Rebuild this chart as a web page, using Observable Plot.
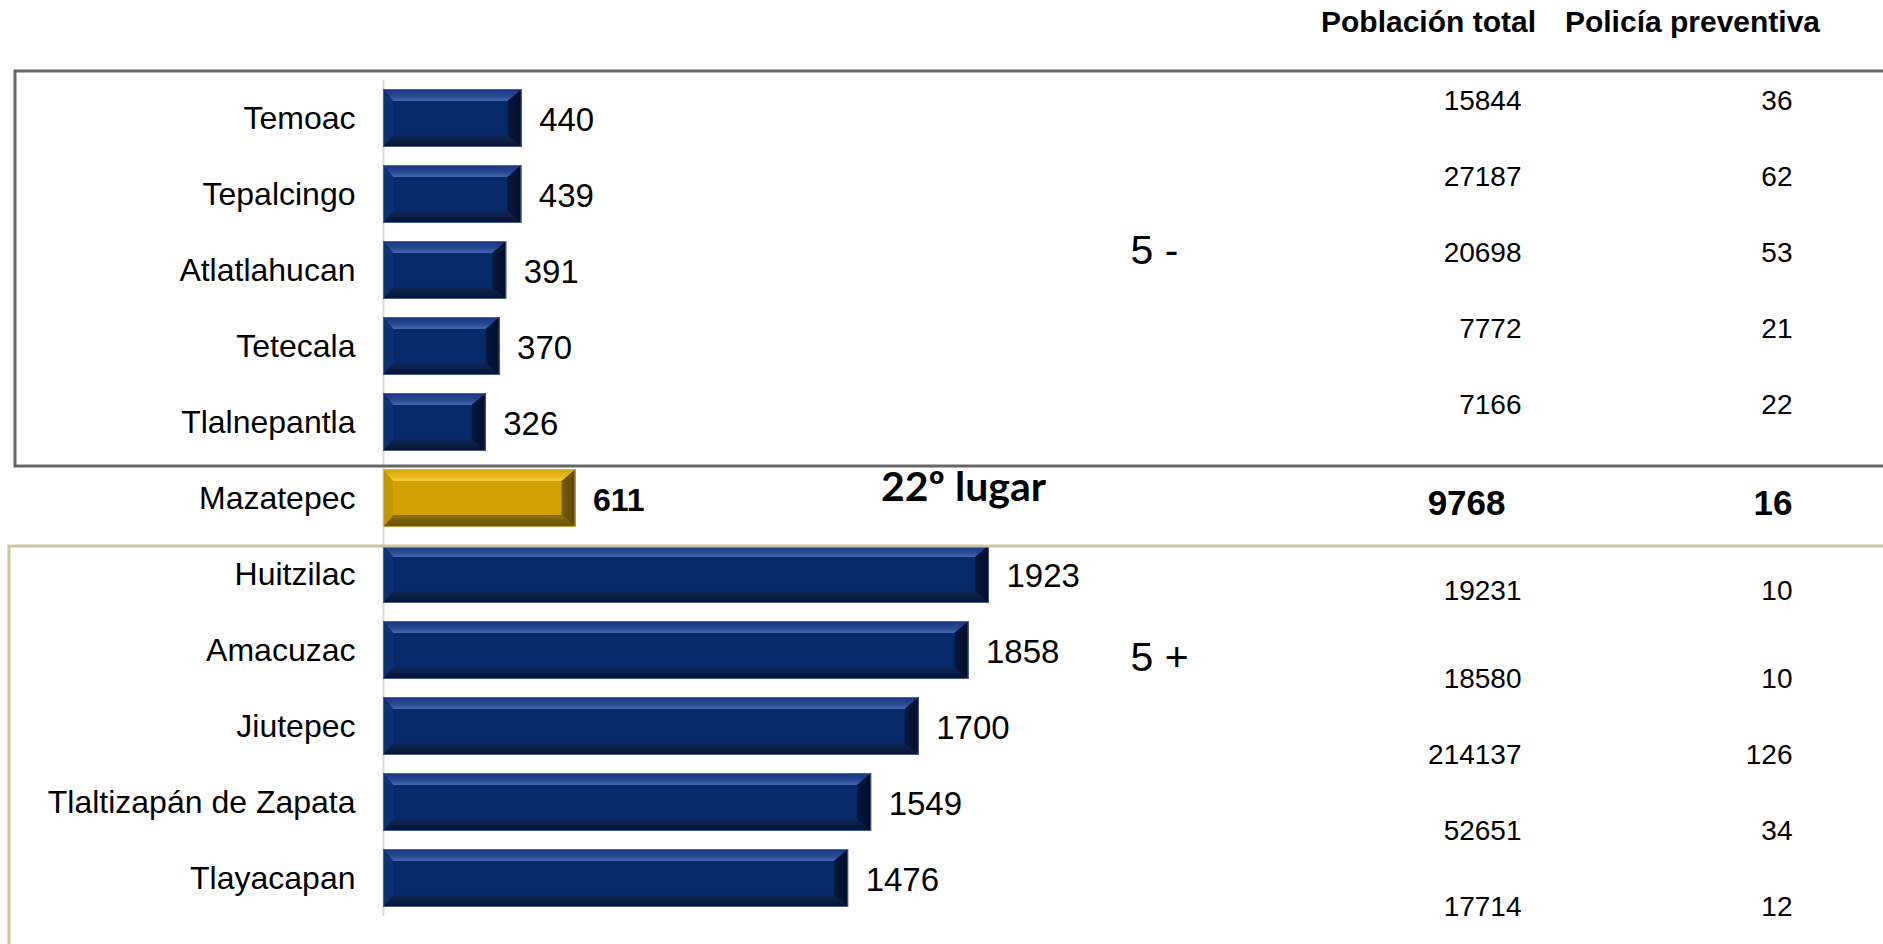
<!DOCTYPE html>
<html>
<head>
<meta charset="utf-8">
<script src="https://cdn.jsdelivr.net/npm/d3@7"></script>
<script src="https://cdn.jsdelivr.net/npm/@observablehq/plot@0.6"></script>
<style>
  html, body { margin: 0; padding: 0; background: #fff; }
  svg { display: block; }
</style>
</head>
<body>
<div id="chart"></div>
<script>
// ---- Data ----
const municipios = ["Temoac", "Tepalcingo", "Atlatlahucan", "Tetecala", "Tlalnepantla", "Mazatepec",
                    "Huitzilac", "Amacuzac", "Jiutepec", "Tlaltizapán de Zapata", "Tlayacapan"];
const valores   = [440, 439, 391, 370, 326, 611, 1923, 1858, 1700, 1549, 1476];
const poblacion = [15844, 27187, 20698, 7772, 7166, 9768, 19231, 18580, 214137, 52651, 17714];
const policia   = [36, 62, 53, 21, 22, 16, 10, 10, 126, 34, 12];
const grupos    = ["menos", "menos", "menos", "menos", "menos", "lugar", "mas", "mas", "mas", "mas", "mas"];
const encabezados = ["Población total", "Policía preventiva"];
const etiquetasGrupo = ["5 -", "5 +"];
const etiquetaLugar = "22º lugar";

const data = municipios.map((m, i) => ({
  municipio: m, valor: valores[i], poblacion: poblacion[i], policia: policia[i], grupo: grupos[i]
}));
const normal = data.filter(d => d.grupo !== "lugar");
const maz = data.filter(d => d.grupo === "lugar");
const menos = data.filter(d => d.grupo === "menos");
const mas = data.filter(d => d.grupo === "mas");
const masPrimero = mas.slice(0, 1);
const masResto = mas.slice(1);

const font = "'Liberation Sans', Arial, Helvetica, sans-serif";

const tabla = (rows, dy, opts = {}, dxPob = -362) => [
  Plot.text(rows, {y: "municipio", text: d => String(d.poblacion), frameAnchor: "right", dx: dxPob, dy,
    textAnchor: "end", lineAnchor: "middle", fontSize: 28, fill: "#000", ...opts}),
  Plot.text(rows, {y: "municipio", text: d => String(d.policia), frameAnchor: "right", dx: -91, dy,
    textAnchor: "end", lineAnchor: "middle", fontSize: 28, fill: "#000", ...opts})
];

const plot = Plot.plot({
  width: 1883,
  height: 944,
  marginTop: 80,
  marginBottom: 28,
  marginLeft: 383,
  marginRight: 0,
  x: {domain: [0, 4760], axis: null},
  y: {domain: municipios, axis: null, paddingInner: 0.237, paddingOuter: 0.118},
  style: {fontFamily: font, color: "#000", background: "#fff"},
  marks: [
    Plot.ruleX([0], {stroke: "#d9d9d9", strokeWidth: 2}),
    Plot.barX(normal, {x: "valor", y: "municipio", fill: "#072a6b"}),
    Plot.barX(maz, {x: "valor", y: "municipio", fill: "#d2a000"}),
    // category labels
    Plot.text(data, {y: "municipio", text: "municipio", frameAnchor: "left", dx: -28,
      textAnchor: "end", lineAnchor: "middle", fontSize: 32, fill: "#000"}),
    // value labels
    Plot.text(normal, {x: "valor", y: "municipio", text: d => String(d.valor), dx: 17, dy: 2,
      textAnchor: "start", lineAnchor: "middle", fontSize: 33, fill: "#000"}),
    Plot.text(maz, {x: "valor", y: "municipio", text: d => String(d.valor), dx: 17, dy: 2,
      textAnchor: "start", lineAnchor: "middle", fontSize: 32, fontWeight: "bold", fill: "#000"}),
    // rank label
    Plot.text(maz, {y: "municipio", text: () => etiquetaLugar, frameAnchor: "left", dx: 580, dy: -11,
      textAnchor: "middle", lineAnchor: "middle", fontSize: 41, fontWeight: "bold",
      fontFamily: "Lato, 'Open Sans', sans-serif", fill: "#000"}),
    // group labels
    Plot.text(menos.slice(2, 3), {y: "municipio", text: () => etiquetasGrupo[0], frameAnchor: "left",
      dx: 747, dy: -20, textAnchor: "start", lineAnchor: "middle", fontSize: 41, fill: "#000"}),
    Plot.text(mas.slice(1, 2), {y: "municipio", text: () => etiquetasGrupo[1], frameAnchor: "left",
      dx: 747, dy: 7, textAnchor: "start", lineAnchor: "middle", fontSize: 41, fill: "#000"}),
    // headers
    Plot.text([encabezados[0]], {text: d => d, frameAnchor: "top-right", dx: -455, dy: -58,
      textAnchor: "middle", lineAnchor: "middle", fontSize: 30, fontWeight: "bold", fill: "#000"}),
    Plot.text([encabezados[1]], {text: d => d, frameAnchor: "top-right", dx: -191, dy: -58,
      textAnchor: "middle", lineAnchor: "middle", fontSize: 30, fontWeight: "bold", fill: "#000"}),
    // table
    ...tabla(menos, -17),
    ...tabla(maz, 5, {fontWeight: "bold", fontSize: 35}, -378),
    ...tabla(masPrimero, 17),
    ...tabla(masResto, 29)
  ]
});

document.getElementById("chart").appendChild(plot);

// ---- Bevel decoration on bars drawn by Plot ----
const svg = d3.select(plot);
const defs = svg.insert("defs", ":first-child");
function grad(id, stops) {
  const g = defs.append("linearGradient").attr("id", id).attr("x1", 0).attr("y1", 0).attr("x2", 0).attr("y2", 1);
  stops.forEach(([o, c]) => g.append("stop").attr("offset", o).attr("stop-color", c));
}
function gradH(id, stops) {
  const g = defs.append("linearGradient").attr("id", id).attr("x1", 0).attr("y1", 0).attr("x2", 1).attr("y2", 0);
  stops.forEach(([o, c]) => g.append("stop").attr("offset", o).attr("stop-color", c));
}
const palettes = {
  navy: {center: "#072a6b", top: "nTop", bottom: "nBot", left: "#0e3076", right: "nRight", stroke: "#5c78b0"},
  gold: {center: "#d2a000", top: "gTop", bottom: "gBot", left: "#c49600", right: "gRight", stroke: "#e0c060"}
};
grad("nTop", [["0%", "#16357b"], ["65%", "#2a4c96"], ["100%", "#4869b2"]]);
grad("nBot", [["0%", "#0e2658"], ["100%", "#08142e"]]);
gradH("nRight", [["0%", "#06183f"], ["100%", "#030d26"]]);
grad("gTop", [["0%", "#d4a400"], ["65%", "#e8bb24"], ["100%", "#f8d048"]]);
grad("gBot", [["0%", "#8c6c0e"], ["100%", "#64500a"]]);
gradH("gRight", [["0%", "#7a5c08"], ["100%", "#5a4506"]]);

svg.selectAll('g[aria-label="bar"]').each(function() {
  const g = d3.select(this);
  const fill = (g.attr("fill") || "").toLowerCase();
  const p = fill === "#d2a000" ? palettes.gold : palettes.navy;
  g.selectAll("rect").each(function() {
    const r = d3.select(this);
    const x = +r.attr("x"), y = +r.attr("y"), w = +r.attr("width"), h = +r.attr("height");
    const bt = 12, bb = 12, bl = 10, br = 14;
    const parent = d3.select(this.parentNode);
    const poly = (pts, f) => parent.append("polygon").attr("points", pts.map(q => q.join(",")).join(" ")).attr("fill", f.startsWith("#") ? f : `url(#${f})`);
    poly([[x, y], [x + w, y], [x + w - br, y + bt], [x + bl, y + bt]], p.top);
    poly([[x, y + h], [x + w, y + h], [x + w - br, y + h - bb], [x + bl, y + h - bb]], p.bottom);
    poly([[x, y], [x + bl, y + bt], [x + bl, y + h - bb], [x, y + h]], p.left);
    poly([[x + w, y], [x + w - br, y + bt], [x + w - br, y + h - bb], [x + w, y + h]], p.right);
    parent.append("rect").attr("x", x + 0.5).attr("y", y + 0.5).attr("width", w - 1).attr("height", h - 1)
      .attr("fill", "none").attr("stroke", p.stroke).attr("stroke-opacity", 0.7).attr("stroke-width", 1);
  });
});

// ---- Group boxes positioned from Plot's y scale ----
const ys = plot.scale("y");
const yFirst = ys.apply(municipios[0]);
const yMaz = ys.apply(municipios[5]);
const yHui = ys.apply(municipios[6]);
svg.append("rect").attr("x", 15).attr("y", yFirst - 18).attr("width", 1900).attr("height", (yMaz - 3) - (yFirst - 18))
  .attr("fill", "none").attr("stroke", "#666666").attr("stroke-width", 3);
svg.append("rect").attr("x", 9).attr("y", yHui + 1).attr("width", 1900).attr("height", 600)
  .attr("fill", "none").attr("stroke", "#cbc5a0").attr("stroke-width", 3);
</script>
</body>
</html>
